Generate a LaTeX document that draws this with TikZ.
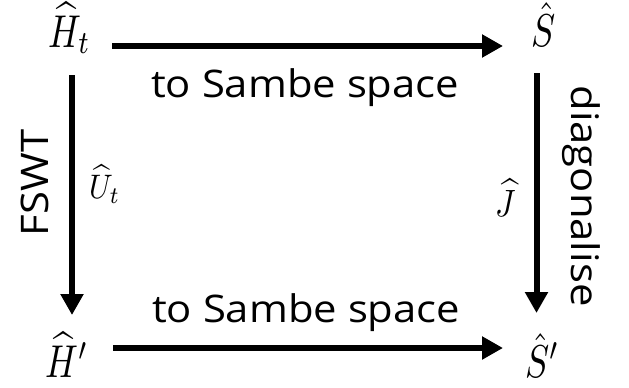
\documentclass[tikz,border=0pt]{standalone}
\usepackage{fontspec}
\setmainfont{Open Sans}
\usetikzlibrary{arrows.meta}
\newcommand{\mybigmath}[1]{\scalebox{3.6}[4.6]{$#1$}}
\newcommand{\mysmallmath}[1]{\scalebox{3.0}[3.4]{$#1$}}
\newcommand{\mywidetext}[1]{\scalebox{1.1}[1]{#1}}
\tikzset{
  mathnode/.style={inner sep=0pt, anchor=base west},
  lbl/.style={inner sep=0pt, font=\fontsize{38}{44}\selectfont},
  arr/.style={line width=6pt, -{Triangle[length=21pt,width=22pt]}},
}
\begin{document}
\begin{tikzpicture}[x=1pt,y=-1pt]
\useasboundingbox (0,0) rectangle (629,388);
\node[mathnode] (Ht) at (48,47) {\mybigmath{\widehat{H}_t}};
\node[mathnode] (S) at (531,46) {\mybigmath{\hat{S}}};
\node[mathnode] (Hp) at (45,377) {\mybigmath{\widehat{H}'}};
\node[mathnode] (Sp) at (525,377) {\mybigmath{\hat{S}'}};
\node[mathnode] (Ut) at (89,198) {\mysmallmath{\widehat{U}_t}};
\node[mathnode] (J) at (495,216) {\scalebox{1.05}[1.12]{\mysmallmath{\widehat{J}}}};
\node[lbl, anchor=base west] (top) at (151,97) {\mywidetext{to Sambe space}};
\node[lbl, anchor=base west] (bot) at (152,322) {\mywidetext{to Sambe space}};
\node[lbl, rotate=90] (fswt) at (35,183) {\mywidetext{FSWT}};
\node[lbl, rotate=-90] (diag) at (581,196) {\mywidetext{diagonalise}};
% horizontal connectors
\draw[arr] ([xshift=64pt,yshift=1pt]Ht.base west) -- ([xshift=-28pt]S.base west);
\draw[arr] ([xshift=68pt,yshift=29pt]Hp.base west) -- ([xshift=-22pt,yshift=29pt]Sp.base west);
% vertical connectors
\draw[arr] ([xshift=24pt,yshift=-28pt]Ht.base west) -- ([xshift=27pt,yshift=62pt]Hp.base west);
\draw[arr] ([xshift=5.5pt,yshift=-27pt]S.base west) -- ([xshift=11.5pt,yshift=64pt]Sp.base west);
\end{tikzpicture}
\end{document}
